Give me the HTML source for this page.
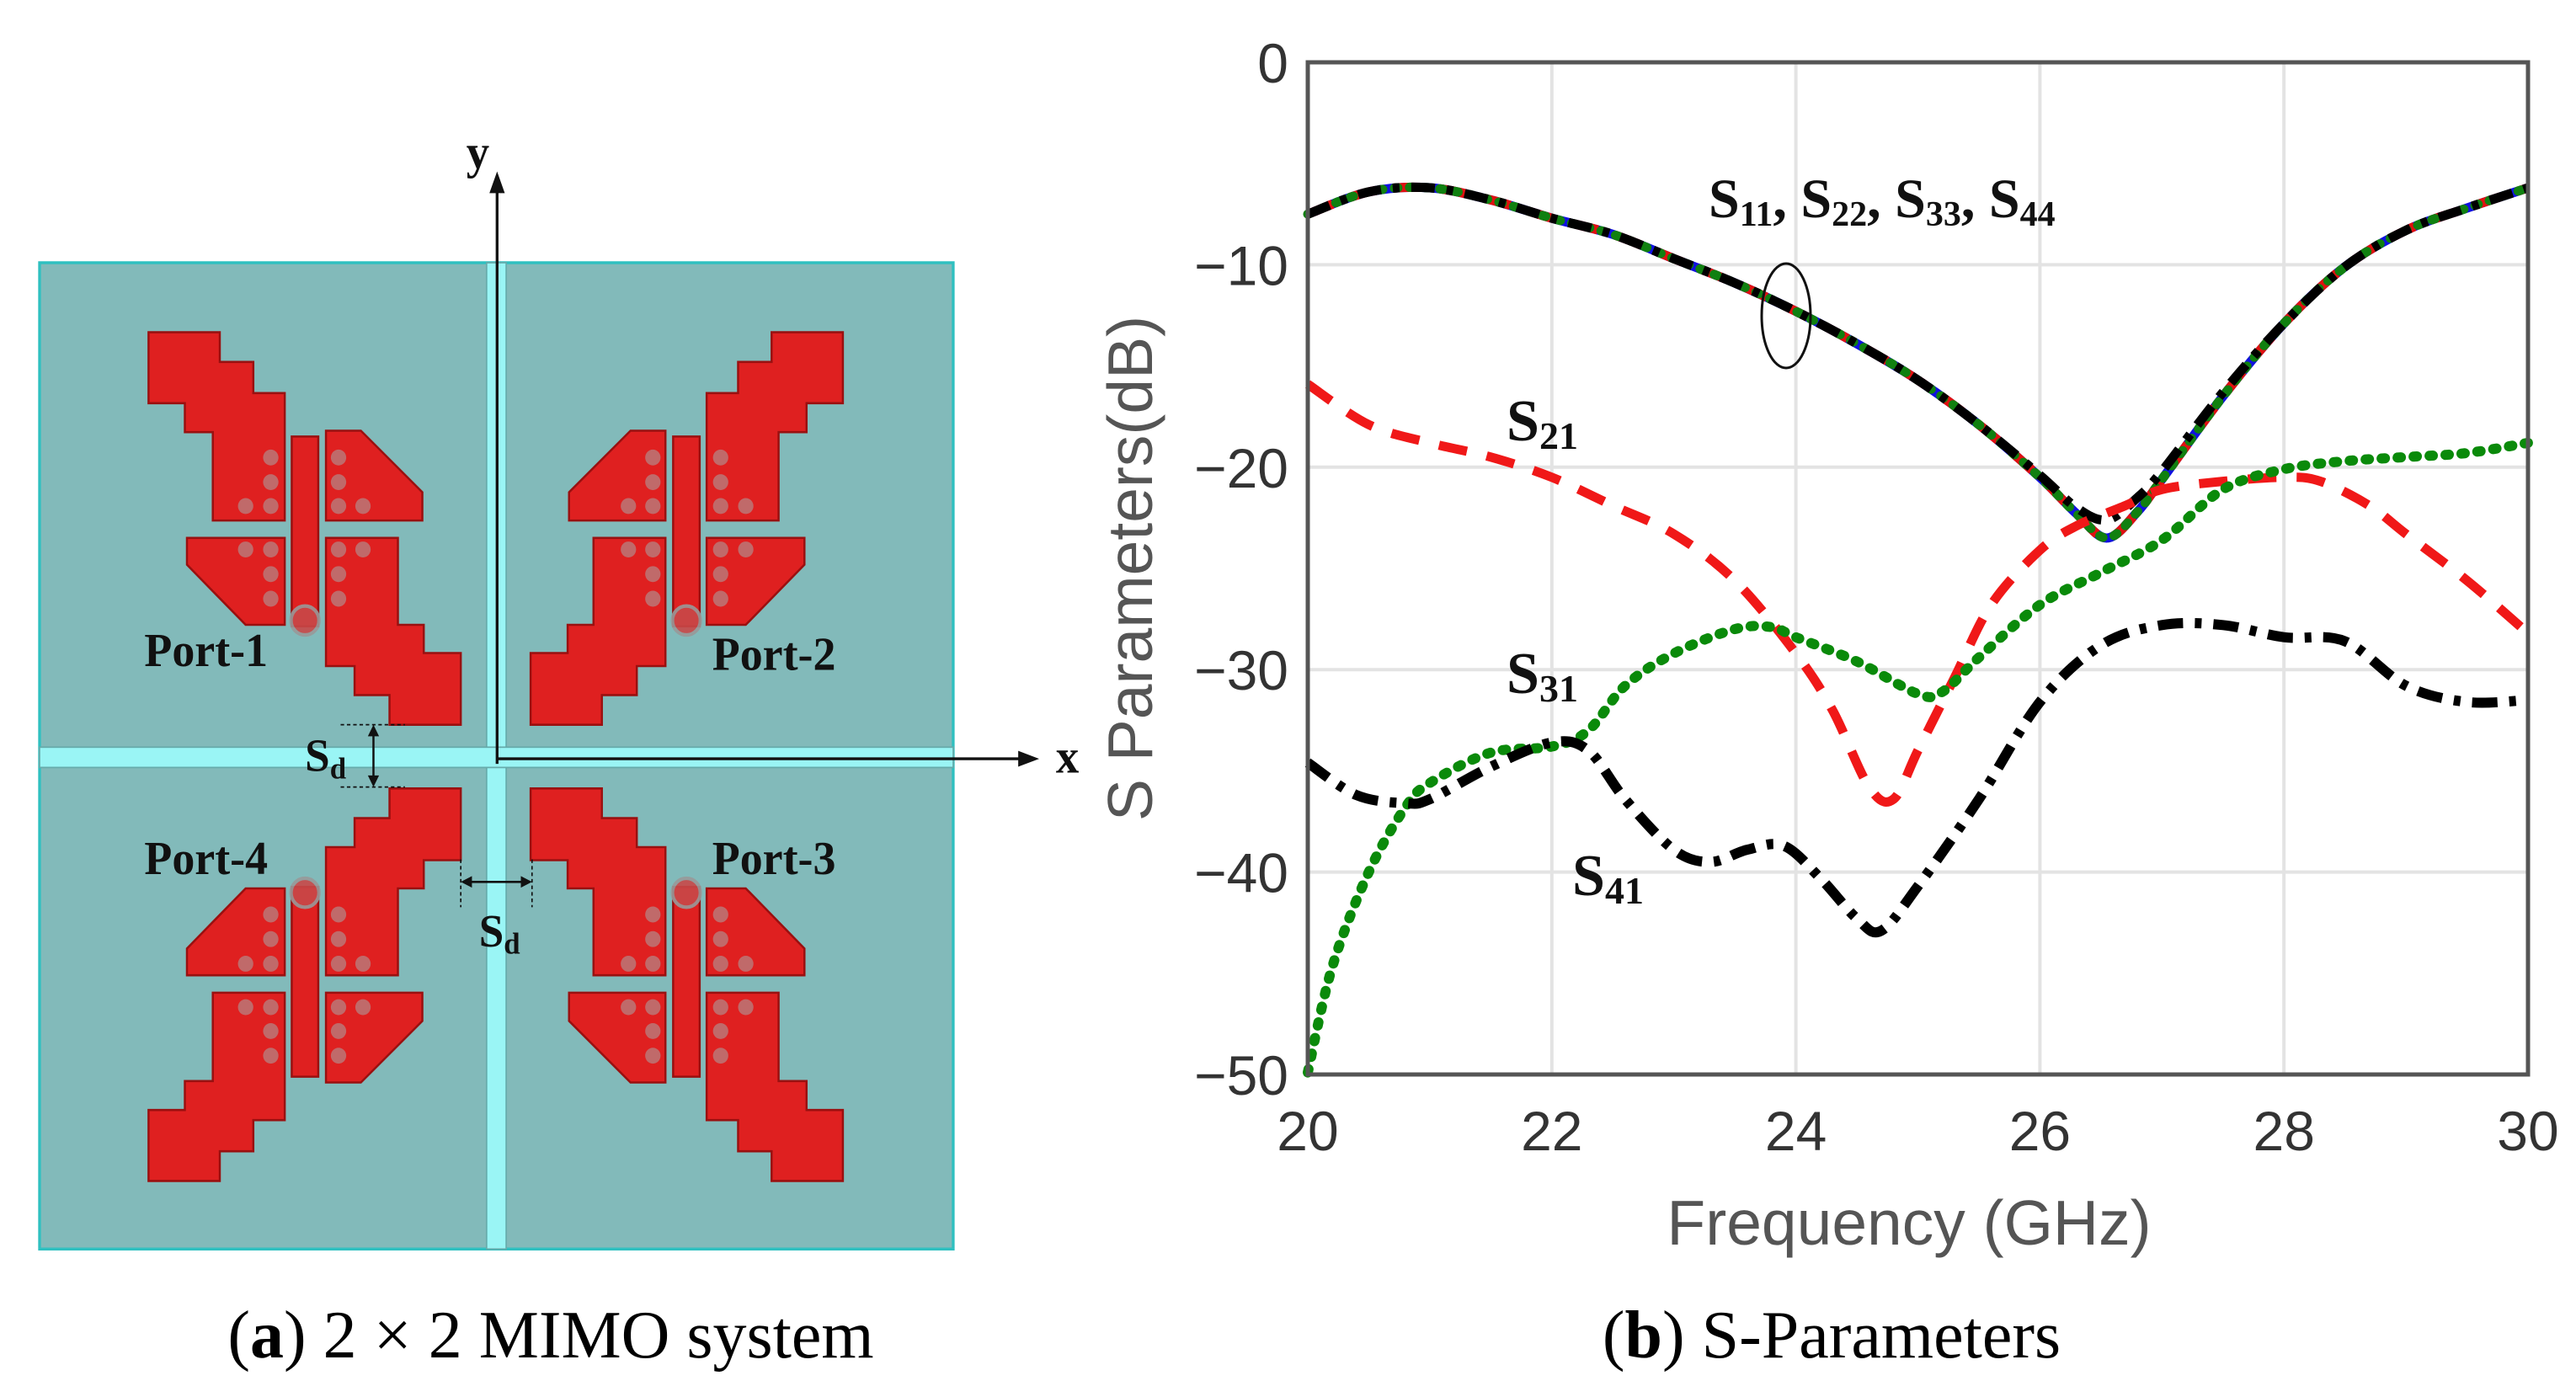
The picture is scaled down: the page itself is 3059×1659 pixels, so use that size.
<!DOCTYPE html>
<html><head><meta charset="utf-8">
<style>
html,body{margin:0;padding:0;background:#fff;}
svg{display:block;}
.tk{font-family:"Liberation Sans",Arial,sans-serif;font-size:66px;fill:#333;}
.lb{font-family:"Liberation Sans",Arial,sans-serif;font-size:75px;fill:#555;}
.sr{font-family:"Liberation Serif","Times New Roman",serif;font-weight:bold;fill:#111;}
.cap{font-family:"Liberation Serif","Times New Roman",serif;font-size:80px;fill:#000;}
</style></head>
<body>
<svg id="root" width="3059" height="1659" viewBox="0 0 3059 1659" xmlns="http://www.w3.org/2000/svg">
<rect width="3059" height="1659" fill="#fff"/>

<g id="layout" transform="translate(-0.3,150.3) scale(0.8295,0.86)">
  <rect x="57" y="188" width="1308" height="1362" fill="#82BABA" stroke="#2FC0C0" stroke-width="4"/>
  <rect x="697" y="188" width="28" height="1362" fill="#9AF5F5" stroke="#6aa" stroke-width="2"/>
  <rect x="57" y="857" width="1308" height="28" fill="#9AF5F5" stroke="#6aa" stroke-width="2"/>
  <g id="quad">
    <polygon points="213,284 315,284 315,325 363,325 363,368 408,368 408,544 305,544 305,422 265,422 265,382 213,382" fill="#DF2020" stroke="#9a1010" stroke-width="3"/>
    <polygon points="467,420 517,420 605,505 605,544 467,544" fill="#DF2020" stroke="#9a1010" stroke-width="3"/>
    <polygon points="418,428 456,428 456,690 418,690" fill="#DF2020" stroke="#9a1010" stroke-width="3"/>
    <polygon points="268,568 408,568 408,688 352,688 268,605" fill="#DF2020" stroke="#9a1010" stroke-width="3"/>
    <polygon points="467,568 570,568 570,688 607,688 607,727 660,727 660,826 558,826 558,785 508,785 508,745 467,745" fill="#DF2020" stroke="#9a1010" stroke-width="3"/>
    <g fill="#C06A6A">
      <circle cx="388" cy="457" r="11"/><circle cx="388" cy="491" r="11"/><circle cx="388" cy="524" r="11"/><circle cx="352" cy="524" r="11"/>
      <circle cx="485" cy="457" r="11"/><circle cx="485" cy="491" r="11"/><circle cx="485" cy="524" r="11"/><circle cx="520" cy="524" r="11"/>
      <circle cx="352" cy="584" r="11"/><circle cx="388" cy="584" r="11"/><circle cx="388" cy="618" r="11"/><circle cx="388" cy="652" r="11"/>
      <circle cx="485" cy="584" r="11"/><circle cx="520" cy="584" r="11"/><circle cx="485" cy="618" r="11"/><circle cx="485" cy="652" r="11"/>
    </g>
    <circle cx="437" cy="682" r="20" fill="#C84848" stroke="#999" stroke-width="5" opacity="0.9"/>
  </g>
  <use href="#quad" transform="translate(1420,0) scale(-1,1)"/>
  <use href="#quad" transform="translate(0,1740) scale(1,-1)"/>
  <use href="#quad" transform="translate(1420,1740) scale(-1,-1)"/>
  <text class="sr" x="207" y="745" font-size="65">Port-1</text>
  <text class="sr" x="1020" y="750" font-size="65">Port-2</text>
  <text class="sr" x="207" y="1032" font-size="65">Port-4</text>
  <text class="sr" x="1020" y="1032" font-size="65">Port-3</text>
  <line x1="712" y1="880" x2="712" y2="90" stroke="#111" stroke-width="4"/>
  <polygon points="712,62 701,92 723,92" fill="#111"/>
  <line x1="712" y1="873" x2="1460" y2="873" stroke="#111" stroke-width="4"/>
  <polygon points="1488,873 1458,862 1458,884" fill="#111"/>
  <text class="sr" x="668" y="58" font-size="66">y</text>
  <text class="sr" x="1512" y="892" font-size="66">x</text>
  <g stroke="#111" stroke-width="2" stroke-dasharray="5,4" fill="none">
    <line x1="488" y1="826" x2="580" y2="826"/><line x1="488" y1="912" x2="580" y2="912"/>
    <line x1="660" y1="1012" x2="660" y2="1078"/><line x1="762" y1="1012" x2="762" y2="1078"/>
  </g>
  <line x1="535" y1="840" x2="535" y2="898" stroke="#111" stroke-width="3"/>
  <polygon points="535,826 527,842 543,842" fill="#111"/><polygon points="535,912 527,896 543,896" fill="#111"/>
  <line x1="674" y1="1043" x2="748" y2="1043" stroke="#111" stroke-width="3"/>
  <polygon points="660,1043 676,1035 676,1051" fill="#111"/><polygon points="762,1043 746,1035 746,1051" fill="#111"/>
  <text class="sr" x="437" y="890" font-size="64">S<tspan font-size="42" dy="10">d</tspan></text>
  <text class="sr" x="686" y="1132" font-size="64">S<tspan font-size="42" dy="10">d</tspan></text>
</g>

<text class="cap" x="654" y="1612" text-anchor="middle">(<tspan font-weight="bold">a</tspan>)  2 × 2 MIMO system</text>
<text class="cap" x="2175" y="1612" text-anchor="middle">(<tspan font-weight="bold">b</tspan>)  S-Parameters</text>

<g id="chart">
  <g id="grid"></g>
  <g id="series"></g>
  <rect x="1553" y="74" width="1449" height="1202" fill="none" stroke="#555" stroke-width="5"/>
  <g id="ticks"></g>
  <text class="lb" x="2267" y="1478" text-anchor="middle">Frequency (GHz)</text>
  <text class="lb" transform="translate(1368,675) rotate(-90)" text-anchor="middle">S Parameters(dB)</text>
  <text class="sr" x="2029" y="258" font-size="66">S<tspan font-size="42" dy="10">11</tspan><tspan dy="-10">, S</tspan><tspan font-size="42" dy="10">22</tspan><tspan dy="-10">, S</tspan><tspan font-size="42" dy="10">33</tspan><tspan dy="-10">, S</tspan><tspan font-size="42" dy="10">44</tspan></text>
  <ellipse cx="2121" cy="375" rx="29" ry="62" fill="none" stroke="#111" stroke-width="3"/>
  <text class="sr" x="1789" y="523" font-size="70">S<tspan font-size="46" dy="10">21</tspan></text>
  <text class="sr" x="1789" y="823" font-size="70">S<tspan font-size="46" dy="10">31</tspan></text>
  <text class="sr" x="1867" y="1063" font-size="70">S<tspan font-size="46" dy="10">41</tspan></text>
</g>
</svg>
<script>
const xTicks = [20,22,24,26,28,30];
const yTicks = [0,-10,-20,-30,-40,-50];
const fS11 = [20,20.5,21,21.5,22,22.5,23,23.5,24,24.5,25,25.5,26,26.3,26.55,26.8,27,27.5,28,28.5,29,29.5,30];
const vS11 = [-7.5,-6.4,-6.2,-6.8,-7.7,-8.5,-9.7,-10.9,-12.3,-13.9,-15.7,-17.9,-20.5,-22.3,-23.5,-22.2,-20.6,-16.5,-12.9,-10.1,-8.3,-7.2,-6.2];
const vS44 = [-7.5,-6.4,-6.2,-6.8,-7.7,-8.5,-9.7,-10.9,-12.3,-13.9,-15.7,-17.9,-20.4,-22.0,-22.6,-21.5,-20.2,-16.3,-12.9,-10.1,-8.3,-7.2,-6.2];
const fS21 = [20,20.5,21,21.5,22,22.5,23,23.5,24,24.3,24.6,24.8,25,25.3,25.6,26,26.3,26.7,27,27.5,28,28.3,28.7,29,29.5,30];
const vS21 = [-15.9,-17.9,-18.8,-19.5,-20.5,-21.9,-23.3,-25.6,-29.2,-32,-35.8,-36.4,-34,-30.4,-26.8,-24.1,-22.9,-21.9,-21.1,-20.7,-20.5,-20.7,-21.9,-23.3,-25.6,-28.2];
const fS31 = [20,20.2,20.5,20.8,21,21.5,22,22.3,22.6,23,23.5,23.8,24,24.5,25,25.2,25.5,26,26.5,27,27.5,28,28.5,29,29.5,30];
const vS31 = [-49.9,-44.7,-40,-36.8,-35.6,-34.1,-33.8,-33,-30.8,-29.2,-28,-27.9,-28.4,-29.6,-31.2,-31.1,-29.4,-26.8,-25.2,-23.6,-21.1,-20.1,-19.7,-19.5,-19.3,-18.8];
const fS41 = [20,20.4,20.8,21,21.5,22,22.3,22.6,23,23.3,23.6,23.9,24.2,24.5,24.7,25,25.5,26,26.5,27,27.5,28,28.5,29,29.5,30];
const vS41 = [-34.6,-36.2,-36.6,-36.4,-34.8,-33.6,-34,-36.4,-38.9,-39.5,-38.9,-38.7,-40.3,-42.3,-42.9,-40.7,-36.4,-31.6,-28.8,-27.8,-27.8,-28.4,-28.6,-30.8,-31.6,-31.5];

const X0=1553,X1=3002,Y0=74,Y1=1276;
function sx(f){return X0+(f-20)/10*(X1-X0);}
function sy(v){return Y0+(0-v)/50*(Y1-Y0);}
const NS="http://www.w3.org/2000/svg";
function mk(tag,attrs,parent){const e=document.createElementNS(NS,tag);for(const k in attrs)e.setAttribute(k,attrs[k]);parent.appendChild(e);return e;}
function pathD(fs,vs){
  const p=fs.map((f,i)=>[sx(f),sy(vs[i])]);
  let d="M"+p[0][0]+","+p[0][1];
  for(let i=0;i<p.length-1;i++){
    const p0=p[i-1]||p[i],p1=p[i],p2=p[i+1],p3=p[i+2]||p[i+1];
    const c1=[p1[0]+(p2[0]-p0[0])/6,p1[1]+(p2[1]-p0[1])/6];
    const c2=[p2[0]-(p3[0]-p1[0])/6,p2[1]-(p3[1]-p1[1])/6];
    d+=" C"+c1[0]+","+c1[1]+" "+c2[0]+","+c2[1]+" "+p2[0]+","+p2[1];
  }
  return d;
}
const grid=document.getElementById('grid'),ticks=document.getElementById('ticks'),ser=document.getElementById('series');
xTicks.forEach(t=>{
  const l=mk('line',{x1:sx(t),x2:sx(t),y1:Y0,y2:Y1,stroke:'#e3e3e3','stroke-width':4},grid);
  
  
  const tx=mk('text',{x:sx(t),y:1366,'text-anchor':'middle',class:'tk'},ticks);
  tx.textContent=String(t);
  
  
});
yTicks.forEach(t=>{
  const l=mk('line',{x1:X0,x2:X1,y1:sy(t),y2:sy(t),stroke:'#e3e3e3','stroke-width':4},grid);
  
  
  const tx=mk('text',{x:1530,y:sy(t)+24,'text-anchor':'end',class:'tk'},ticks);
  tx.textContent=t<0?('\u2212'+(-t)):String(t);
  
  
});
function draw(fs,vs,color,dash,w,cap,name){
  const p=mk('path',{d:pathD(fs,vs),fill:'none',stroke:color,'stroke-width':w,'stroke-dasharray':dash,'stroke-linecap':cap},ser);
  
  
}
draw(fS11,vS11,'#1010E0','none',11,'butt','s11-line');
draw(fS11,vS11,'#E01010','32,22',11,'butt','s22-line');
draw(fS11,vS11,'#108010','4,14',11,'round','s33-line');
draw(fS11,vS44,'#000','28,14,8,14',11,'butt','s44-line');
draw(fS21,vS21,'#F01818','34,24',11,'butt','s21-line');
draw(fS31,vS31,'#0A8A0A','4,15',12,'round','s31-line');
draw(fS41,vS41,'#000','30,14,8,14',12,'butt','s41-line');
</script>
</body></html>
